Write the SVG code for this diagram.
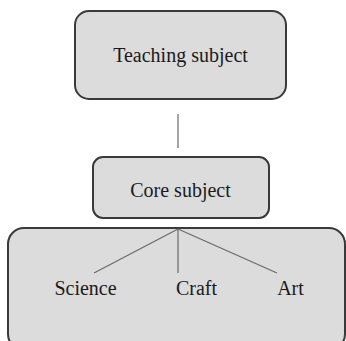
<svg xmlns="http://www.w3.org/2000/svg" width="346" height="341" viewBox="0 0 346 341">
<style>
.box{fill:#dcdcdc;stroke:#3a3a3a;stroke-width:2}
.lbl{font-family:"Liberation Serif",serif;font-size:20px;fill:#1a1a1a;text-anchor:middle}
.con{stroke:#6a6a6a;stroke-width:1.2;fill:none}
</style>
<rect width="346" height="341" fill="#ffffff"/>
<g id="bottom-group">
<rect class="box" x="8" y="228" width="337" height="122" rx="16"/>
</g>
<g id="teaching-subject">
<rect class="box" x="75" y="11" width="211" height="88" rx="14"/>
<text class="lbl" x="180.5" y="62">Teaching subject</text>
</g>
<g id="core-subject">
<rect class="box" x="93" y="157" width="176" height="61" rx="10"/>
<text class="lbl" x="180.5" y="197">Core subject</text>
</g>
<g id="science"><text class="lbl" x="85.5" y="295">Science</text></g>
<g id="craft"><text class="lbl" x="196.5" y="295">Craft</text></g>
<g id="art"><text class="lbl" x="290.5" y="295">Art</text></g>
<g id="connectors">
<line class="con" x1="178" y1="114" x2="178" y2="148"/>
<line class="con" x1="178" y1="229" x2="94" y2="273"/>
<line class="con" x1="178" y1="229" x2="178" y2="273"/>
<line class="con" x1="178" y1="229" x2="277" y2="273"/>
</g>
</svg>
